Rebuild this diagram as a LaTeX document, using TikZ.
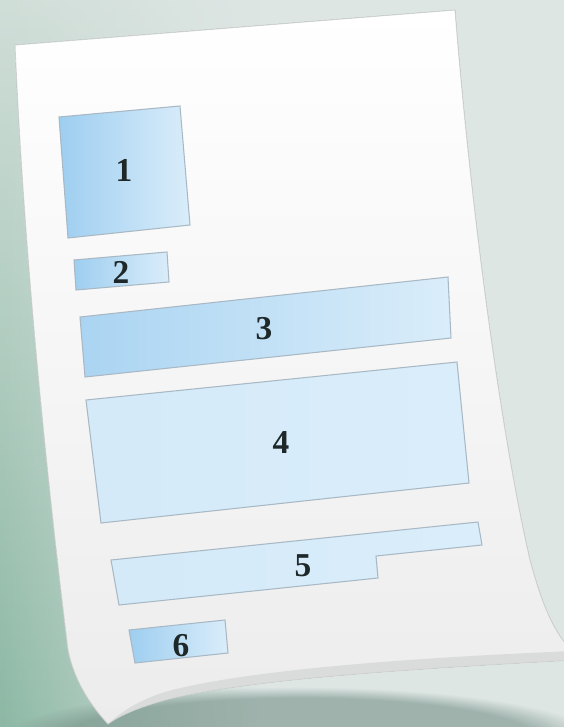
\documentclass[tikz,border=0pt]{standalone}
\usepackage{fontspec}
\setmainfont{Liberation Serif}
\usepackage{tikz}
\usetikzlibrary{fadings}
\definecolor{pgGreen}{RGB}{160,198,182}
\definecolor{pgGreenDk}{RGB}{140,184,164}
\definecolor{pgMist}{RGB}{208,222,216}
\definecolor{pgLight}{RGB}{222,230,228}
\definecolor{pgShadow}{RGB}{118,144,136}
\definecolor{pgPaper}{RGB}{236,236,236}
\definecolor{pgCurl}{RGB}{214,216,216}
\definecolor{pgRim}{RGB}{206,210,209}
\definecolor{pgDeep}{RGB}{158,206,240}
\definecolor{pgPale}{RGB}{218,237,250}
\definecolor{pgEdge}{RGB}{168,184,196}
\definecolor{pgInk}{RGB}{30,40,40}

\begin{document}
\begin{tikzpicture}[x=0.02cm, y=-0.02cm,
  field/.style={draw=pgEdge, line width=0.6pt, left color=#1, right color=pgPale},
  field/.default=pgDeep,
  num/.style={font=\fontsize{19}{22}\selectfont\bfseries, text=pgInk, inner sep=0pt}]
  \useasboundingbox (0,0) rectangle (564,727);
  \clip (0,0) rectangle (564,727);
  % backdrop
  \fill[pgLight] (0,0) rectangle (564,727);
  \shade[top color=pgMist, bottom color=pgGreenDk, path fading=east] (0,0) rectangle (260,727);
  \fill[pgShadow, opacity=0.6, path fading=circle with fuzzy edge 20 percent] (300,742) ellipse (300 and 55);
  % sheet
  \fill[top color=white, bottom color=pgPaper, draw=pgRim, line width=0.5pt]
    (15,45) -- (455,10)
    .. controls (470,200) and (500,430) .. (530,560)
    .. controls (542,605) and (555,635) .. (572,650) -- (572,660)
    .. controls (430,668) and (250,678) .. (165,700)
    .. controls (140,707) and (120,715) .. (108,724)
    .. controls (90,705) and (74,680) .. (68,650)
    .. controls (52,520) and (25,280) .. (15,45) -- cycle;
  % curled lip
  \fill[pgCurl, opacity=0.8] (572,660)
    .. controls (430,668) and (250,678) .. (165,700)
    .. controls (140,707) and (120,715) .. (108,724)
    .. controls (122,711) and (142,698) .. (172,690)
    .. controls (260,668) and (430,657) .. (572,651) -- cycle;
  % fields
  \draw[field] (59,117) -- (180,106) -- (190,225) -- (68,238) -- cycle;
  \draw[field] (74,260) -- (167,252) -- (169,282) -- (76,290) -- cycle;
  \draw[field=pgDeep!80!pgPale] (80,317) -- (448,277) -- (451,338) -- (85,377) -- cycle;
  \draw[field=pgPale!90!pgDeep] (86,400) -- (457,362) -- (469,483) -- (101,523) -- cycle;
  \draw[field=pgPale!90!pgDeep] (111,560) -- (478,522) -- (482,545) -- (376,556) -- (378,578) -- (119,605) -- cycle;
  \draw[field] (129,630) -- (225,620) -- (228,653) -- (135,663) -- cycle;
  % numbers
  \node[num] (n1) at (124,170) {1};
  \node[num] (n2) at (121,272) {2};
  \node[num] (n3) at (264,329) {3};
  \node[num] (n4) at (281,443) {4};
  \node[num] (n5) at (303,566) {5};
  \node[num] (n6) at (181,646) {6};
\end{tikzpicture}
\end{document}
